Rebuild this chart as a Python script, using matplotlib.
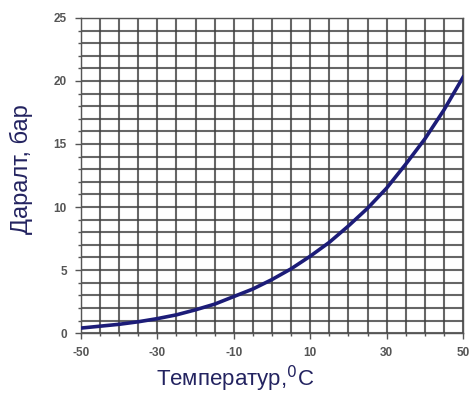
import matplotlib.pyplot as plt
import numpy as np

plt.rcParams['font.family'] = ['Liberation Sans', 'DejaVu Sans']

# Температур (°C) ба даралт (бар)
temperatures = [-50, -45, -40, -35, -30, -25, -20, -15, -10, -5, 0,
                5, 10, 15, 20, 25, 30, 35, 40, 45, 50]
pressures = [0.4, 0.55, 0.7, 0.9, 1.15, 1.45, 1.85, 2.3, 2.9, 3.5, 4.25,
             5.1, 6.1, 7.2, 8.5, 9.9, 11.5, 13.4, 15.4, 17.7, 20.3]

xtick_values = [-50, -30, -10, 10, 30, 50]
xtick_labels = ["-50", "-30", "-10", "10", "30", "50"]
ytick_values = [0, 5, 10, 15, 20, 25]

fig = plt.figure(figsize=(4.73, 3.98), dpi=100)
ax = fig.add_axes([0.171, 0.163, 0.808, 0.792])

ax.plot(temperatures, pressures, color='#1c1c78', linewidth=2.6, zorder=3)

ax.set_xlim(-50, 50)
ax.set_ylim(0, 25)

# Сүлжээ: 5 градус, 1 бар тутамд
ax.set_xticks(np.arange(-50, 51, 5), minor=True)
ax.set_yticks(np.arange(0, 26, 1), minor=True)
ax.grid(which='both', color='#404040', linewidth=1.5, alpha=0.8)
ax.set_axisbelow(True)

ax.set_xticks(xtick_values)
ax.set_xticklabels(xtick_labels)
ax.set_yticks(ytick_values)

ax.tick_params(which='major', length=4, width=1, color='#555555',
               labelsize=8.5, labelcolor='#555555', pad=6)
ax.tick_params(which='minor', length=2.5, width=1, color='#555555')
for lbl in ax.get_xticklabels() + ax.get_yticklabels():
    lbl.set_fontweight('bold')

for side in ['top', 'right', 'bottom', 'left']:
    ax.spines[side].set_color('#555555')
    ax.spines[side].set_linewidth(1)

fig.text(0.497, 0.03, 'Температур,$^0$C', fontsize=16, color='#232360',
         ha='center', va='baseline')
ax.set_ylabel('Даралт, бар', fontsize=17, color='#232360')
ax.yaxis.set_label_coords(-0.125, 0.52)

fig.savefig('out.png', dpi=100)
